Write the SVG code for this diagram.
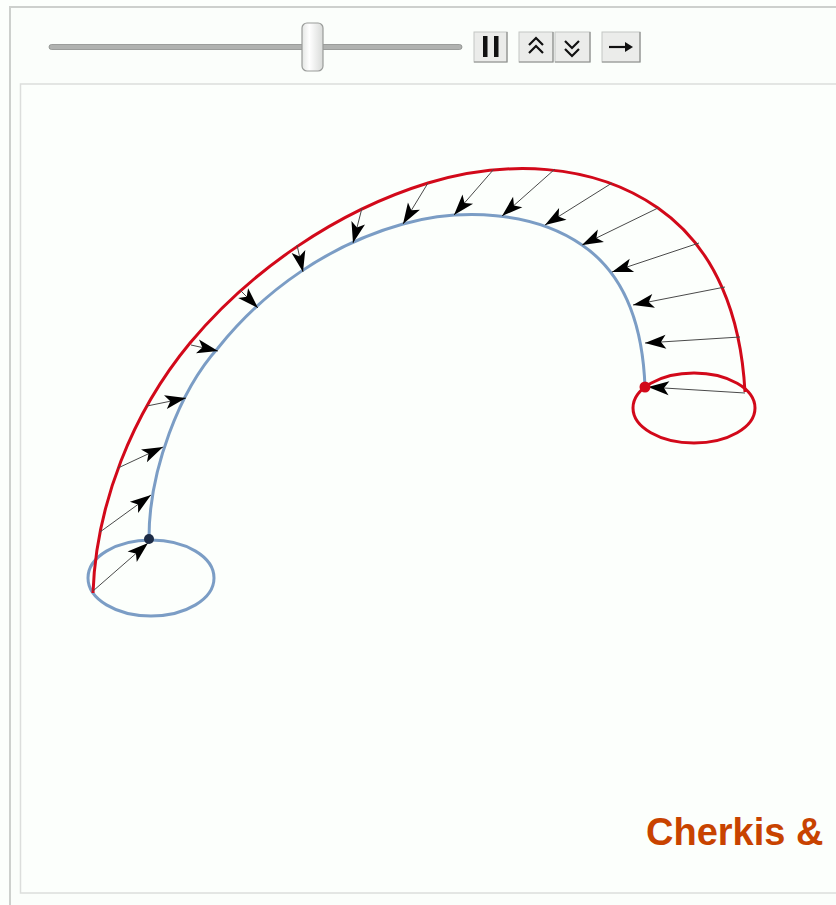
<svg xmlns="http://www.w3.org/2000/svg" width="836" height="905" viewBox="0 0 836 905">
  <style>
    .frame { fill: #fbfefb; stroke: #cdd0cd; stroke-width: 2; }
    .panel { fill: #fcfffc; stroke: #dcdedc; stroke-width: 1.5; }
    .btn { fill: #ebecea; stroke: #c4c6c4; stroke-width: 1; }
    .btnshade { fill: none; stroke: #8e908e; stroke-width: 1.2; }
    .glyph { fill: none; stroke: #111; stroke-width: 2.2; stroke-linecap: butt; stroke-linejoin: miter; }
    .red { fill: none; stroke: #d2091a; stroke-width: 3; }
    .blue { fill: none; stroke: #7b9dc5; stroke-width: 3; }
    .arrow { stroke: #4a4a4a; stroke-width: 1; fill: none; marker-end: url(#head); }
    .credit { font-family: "Liberation Sans", Arial, sans-serif; font-weight: bold; font-size: 38px; fill: #c84300; }
  </style>
  <defs>
    <marker id="head" markerUnits="userSpaceOnUse" markerWidth="22" markerHeight="15" refX="21" refY="7.5" orient="auto" overflow="visible">
      <path d="M21,7.5 L0,0.5 L5,7.5 L0,14.5 Z" fill="#000"/>
    </marker>
    <linearGradient id="thumbGrad" x1="0" y1="0" x2="1" y2="0">
      <stop offset="0" stop-color="#e4e6e4"/>
      <stop offset="0.35" stop-color="#ffffff"/>
      <stop offset="1" stop-color="#d8dad8"/>
    </linearGradient>
  </defs>

  <rect x="0" y="0" width="836" height="905" fill="#fcfffc"/>
  <rect class="frame" x="10" y="7" width="840" height="910"/>
  <rect class="panel" x="20.5" y="84" width="830" height="809"/>

  <g id="controls">
    <rect x="49" y="44.5" width="413" height="5" rx="2.5" fill="#b0b2b0" stroke="#8c8e8c" stroke-width="0.8"/>
    <rect x="302" y="23" width="21" height="48" rx="5" fill="url(#thumbGrad)" stroke="#9a9c9a" stroke-width="1.2"/>
    <g id="btn-pause">
      <rect class="btn" x="474" y="32" width="33" height="30"/>
      <path class="btnshade" d="M474,62 H507 V32"/>
      <rect x="483" y="36" width="4.5" height="21" fill="#111"/>
      <rect x="494" y="36" width="4.5" height="21" fill="#111"/>
    </g>
    <g id="btn-faster">
      <rect class="btn" x="519" y="32" width="34" height="30"/>
      <path class="btnshade" d="M519,62 H553 V32"/>
      <path class="glyph" d="M529,45 L536,38 L543,45 M529,53 L536,46 L543,53"/>
    </g>
    <g id="btn-slower">
      <rect class="btn" x="555" y="32" width="35" height="30"/>
      <path class="btnshade" d="M555,62 H590 V32"/>
      <path class="glyph" d="M565,41 L572,48 L579,41 M565,49 L572,56 L579,49"/>
    </g>
    <g id="btn-step">
      <rect class="btn" x="602" y="32" width="38" height="30"/>
      <path class="btnshade" d="M602,62 H640 V32"/>
      <path class="glyph" d="M609,47 H629"/>
      <path d="M633,47 L625,42 L625,52 Z" fill="#111"/>
    </g>
  </g>

  <g id="start-loop">
    <ellipse class="blue" cx="151" cy="578" rx="63" ry="38"/>
  </g>
  <g id="end-loop">
    <ellipse class="red" cx="694" cy="408" rx="61" ry="35"/>
  </g>

  <g id="inner-path">
    <path class="blue" d="M149,538 C149,470 180,390 218,348 C265,289 331,244 403,224 C461,208 533,211 582,245 C629,277 643,332 645,387"/>
  </g>
  <g id="outer-path">
    <path class="red" d="M93,593 C96,505 132,413 190,343 C251,270 337,211 428,183 C505,160 592,162 658,208 C717,249 741,318 745,392"/>
  </g>

  <g id="connectors">
    <line class="arrow" x1="93" y1="591" x2="148" y2="543"/>
    <line class="arrow" x1="100" y1="532" x2="151" y2="495"/>
    <line class="arrow" x1="118" y1="468" x2="163" y2="447"/>
    <line class="arrow" x1="147" y1="406" x2="186" y2="398"/>
    <line class="arrow" x1="191" y1="345" x2="218" y2="351"/>
    <line class="arrow" x1="240" y1="290" x2="258" y2="308"/>
    <line class="arrow" x1="297" y1="245" x2="303" y2="272"/>
    <line class="arrow" x1="362" y1="208" x2="353" y2="243"/>
    <line class="arrow" x1="428" y1="183" x2="403" y2="224"/>
    <line class="arrow" x1="494" y1="169" x2="454" y2="215"/>
    <line class="arrow" x1="555" y1="169" x2="502" y2="216"/>
    <line class="arrow" x1="612" y1="183" x2="545" y2="225"/>
    <line class="arrow" x1="658" y1="208" x2="582" y2="245"/>
    <line class="arrow" x1="699" y1="243" x2="612" y2="272"/>
    <line class="arrow" x1="725" y1="287" x2="633" y2="305"/>
    <line class="arrow" x1="740" y1="337" x2="645" y2="343"/>
    <line class="arrow" x1="745" y1="393" x2="648" y2="387"/>
  </g>

  <g id="start-point">
    <circle cx="149" cy="539" r="5" fill="#1d2b45"/>
  </g>
  <g id="end-point">
    <circle cx="645" cy="387" r="5.5" fill="#d2091a"/>
  </g>

  <g id="credit">
    <text class="credit" x="646" y="845">Cherkis &amp;</text>
  </g>
</svg>
